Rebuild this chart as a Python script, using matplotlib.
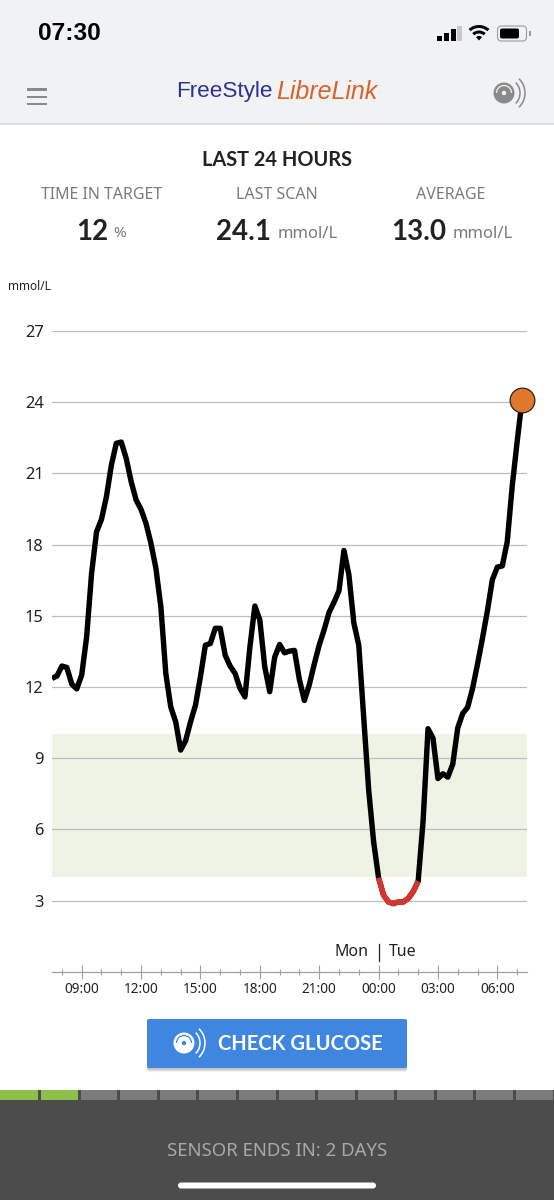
import numpy as np
import matplotlib
matplotlib.use("Agg")
import matplotlib.pyplot as plt
from matplotlib.patches import Rectangle, FancyBboxPatch, Circle, Wedge, Arc

plt.rcParams["font.family"] = ["Noto Sans", "DejaVu Sans"]

# glucose readings every 15 minutes, starting 07:30 Monday
glucose = [
    12.36, 12.46, 12.88, 12.82, 12.12, 11.92, 12.50, 14.11, 16.79, 18.54, 19.06, 20.02,
    21.35, 22.27, 22.32, 21.63, 20.65, 19.88, 19.48, 18.89, 18.05, 17.00, 15.38, 12.57,
    11.16, 10.53, 9.34, 9.73, 10.53, 11.23, 12.43, 13.76, 13.83, 14.47, 14.47, 13.34,
    12.88, 12.57, 11.94, 11.58, 13.69, 15.41, 14.82, 12.85, 11.80, 13.25, 13.79, 13.44,
    13.51, 13.54, 12.31, 11.43, 12.09, 12.96, 13.76, 14.41, 15.14, 15.57, 16.05, 17.75,
    16.73, 14.70, 13.76, 10.71, 7.66, 5.48, 3.96, 3.23, 2.94, 2.87, 2.94, 2.94,
    3.09, 3.38, 3.81, 6.35, 10.24, 9.84, 8.14, 8.34, 8.20, 8.75, 10.27, 10.88,
    11.14, 11.94, 12.96, 14.05, 15.21, 16.52, 17.05, 17.10, 18.11, 20.44, 22.32, 24.10,
]
target_low = 4
target_high = 10
y_ticks = [3, 6, 9, 12, 15, 18, 21, 24, 27]
x_ticks = [9, 12, 15, 18, 21, 24, 27, 30]
x_labels = ["09:00", "12:00", "15:00", "18:00", "21:00", "00:00", "03:00", "06:00"]
segments_done = 2
segments_total = 14

hours = 7.5 + 0.25 * np.arange(len(glucose))
values = np.array(glucose)

W, H = 554, 1200
fig = plt.figure(figsize=(W / 100, H / 100), dpi=100, facecolor="white")

# phone screen furniture, in pixel coordinates
ui = fig.add_axes([0, 0, 1, 1])
ui.set_xlim(0, W)
ui.set_ylim(H, 0)
ui.axis("off")

GREY = "#7a7a7a"
DARK = "#222222"
ICON = "#8a8a8a"
BOLD = ["Lato", "DejaVu Sans"]


def label(x, y, s, size, color=DARK, ha="center", **kw):
    ui.text(x, y, s, fontsize=size, color=color, ha=ha, va="center", **kw)


def sensor_icon(x, y, color, hole):
    ui.add_patch(Circle((x, y), 10.5, color=color, lw=0))
    ui.add_patch(Arc((x, y), 15, 15, theta1=180, theta2=360, color=hole, lw=0.9))
    ui.add_patch(Circle((x, y), 2.2, color=hole, lw=0))
    for d in (26, 36):
        ui.add_patch(Arc((x + 3, y), d, d + 2, theta1=-50, theta2=50, color=color, lw=1.1))


ui.add_patch(Rectangle((0, 0), W, 124, color="#f1f2f4", lw=0))
ui.add_patch(Rectangle((0, 123), W, 2, color="#dddddd", lw=0))

ui.text(69, 34, "07:30", fontsize=17.6, color="black", ha="center", va="center",
        family=["Liberation Sans", "DejaVu Sans"], fontweight="bold")

# signal bars
for bx, bh, c in zip([437, 444, 450.5, 457], [5, 8, 12, 15], ["black", "black", "black", "#c8c8c8"]):
    ui.add_patch(Rectangle((bx, 41 - bh), 5, bh, color=c, lw=0))
# wifi
ui.add_patch(Wedge((479, 40.5), 4.5, 228, 312, color="black", lw=0))
ui.add_patch(Wedge((479, 40.5), 10, 228, 312, width=3, color="black", lw=0))
ui.add_patch(Wedge((479, 40.5), 15.5, 228, 312, width=3, color="black", lw=0))
# battery
ui.add_patch(FancyBboxPatch((497.5, 26), 29, 15, boxstyle="round,pad=0,rounding_size=4",
                            fc="none", ec="#9a9a9a", lw=0.8))
ui.add_patch(FancyBboxPatch((500, 28.5), 19, 10, boxstyle="round,pad=0,rounding_size=2",
                            fc="black", ec="none"))
ui.add_patch(Rectangle((528.5, 31), 2, 5, color="#9a9a9a", lw=0))

# hamburger
for hy in [89.5, 97, 104]:
    ui.add_patch(Rectangle((26.5, hy - 1.3), 20.5, 2.6, color=ICON, lw=0))

# logo
logo_font = ["Liberation Sans", "DejaVu Sans"]
ui.text(176, 92, "FreeStyle", fontsize=16.2, color="#2e3192", ha="left", va="center", family=logo_font)
ui.text(276, 92, "LibreLink", fontsize=18, color="#d9622b", ha="left", va="center",
        family=logo_font, style="italic")
sensor_icon(504, 93, ICON, "#f1f2f4")

# summary block
label(277, 160, "LAST 24 HOURS", 14.4, DARK, family=BOLD, fontweight="bold")
label(102, 195, "TIME IN TARGET", 11.5, GREY)
label(277, 195, "LAST SCAN", 11.5, GREY)
label(451, 195, "AVERAGE", 11.5, GREY)
label(92, 232, "12", 20, DARK, family=BOLD, fontweight="bold")
label(113, 233.5, "%", 11, GREY, ha="left")
label(243.5, 232, "24.1", 20, DARK, family=BOLD, fontweight="bold")
label(278, 233.5, "mmol/L", 12, GREY, ha="left")
label(419, 232, "13.0", 20, DARK, family=BOLD, fontweight="bold")
label(453, 233.5, "mmol/L", 12, GREY, ha="left")
label(8, 286, "mmol/L", 8.5, DARK, ha="left")

# chart, y 0-27 runs from the time axis up to the top gridline
ax = fig.add_axes([52 / W, 1 - 971.7 / H, 475 / W, (971.7 - 331) / H])
ax.patch.set_alpha(0)
ax.set_xlim(7.5, 31.5)
ax.set_ylim(0, 27)
ax.axhspan(target_low, target_high, color="#eef3e6", lw=0, zorder=1)
for t in y_ticks:
    ax.axhline(t, color="#bdbdbd", lw=0.9, zorder=2)
ax.plot(hours, values, color="black", lw=3.9, solid_joinstyle="round", solid_capstyle="butt", zorder=3)
low = np.where(values < target_low)[0]
ax.plot(hours[low], values[low], color="#d8352f", lw=3.9, solid_joinstyle="round",
        solid_capstyle="butt", zorder=4)
ax.plot(hours[-1], values[-1], "o", ms=17.8, mfc="#e0782c", mec="#222222", mew=0.9, clip_on=False, zorder=5)

for s in ["top", "left", "right"]:
    ax.spines[s].set_visible(False)
ax.spines["bottom"].set_color("#a0a0a0")
ax.spines["bottom"].set_linewidth(0.9)
ax.set_yticks(y_ticks)
ax.tick_params(axis="y", length=0, pad=6, labelsize=11.8, labelcolor=DARK)
ax.set_xticks(x_ticks)
ax.set_xticklabels(x_labels)
ax.set_xticks(np.arange(8, 32), minor=True)
ax.tick_params(axis="x", which="major", direction="inout", length=10, width=0.8, color="#a0a0a0",
               pad=2.5, labelsize=9.8, labelcolor=DARK)
ax.tick_params(axis="x", which="minor", direction="inout", length=5, width=0.8, color="#a0a0a0")

label(368, 952.5, "Mon", 11.5, DARK, ha="right")
label(389, 952.5, "Tue", 11.5, DARK, ha="left")
ui.plot([379, 379], [944, 961], color=DARK, lw=0.9)

# button
for off, alpha in zip([4, 3, 2], [0.05, 0.08, 0.1]):
    ui.add_patch(FancyBboxPatch((147, 1019 + off), 260, 49, boxstyle="round,pad=0,rounding_size=2",
                                fc="black", ec="none", alpha=alpha))
ui.add_patch(FancyBboxPatch((147, 1019), 260, 49, boxstyle="round,pad=0,rounding_size=2",
                            fc="#3f86e0", ec="none"))
sensor_icon(184, 1043, "white", "#3f86e0")
label(300, 1044, "CHECK GLUCOSE", 14.5, "white", family=BOLD, fontweight="bold")

# sensor life footer
ui.add_patch(Rectangle((0, 1090), W, H - 1090, color="#4c4c4c", lw=0))
seg_w = W / segments_total
for i in range(segments_total):
    c = "#8dc04a" if i < segments_done else "#7c7c7c"
    ui.add_patch(Rectangle((i * seg_w + (1.5 if i else 0), 1090), seg_w - (3 if i else 1.5), 9.5, color=c, lw=0))
label(277, 1151, "SENSOR ENDS IN: 2 DAYS", 13.4, "#a9a9a9")
ui.add_patch(FancyBboxPatch((178, 1182.5), 198, 6, boxstyle="round,pad=0,rounding_size=3",
                            fc="white", ec="none"))

fig.savefig("out.png", dpi=100)
